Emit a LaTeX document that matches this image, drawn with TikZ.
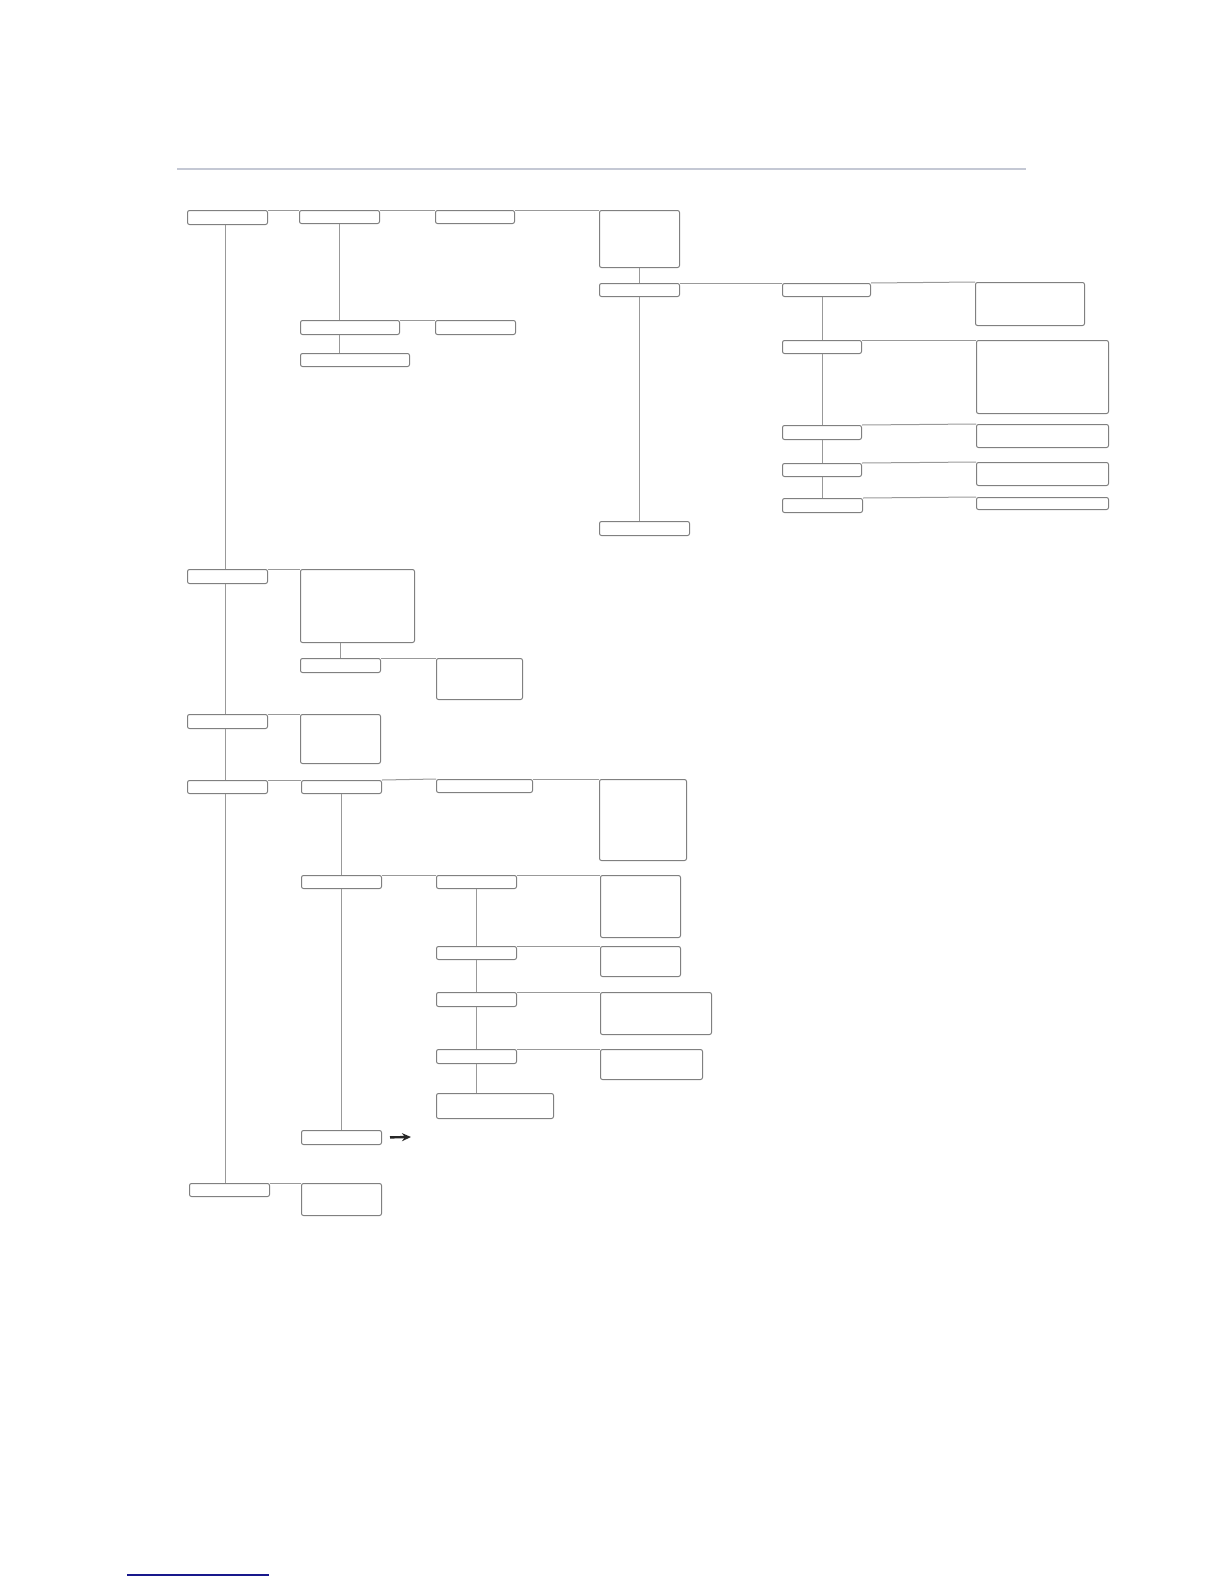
\documentclass[tikz,border=0pt]{standalone}
\usetikzlibrary{arrows.meta}
\definecolor{rulegray}{RGB}{196,200,212}
\definecolor{linkblue}{RGB}{24,24,140}
\begin{document}
\begin{tikzpicture}[x=0.5pt, y=-0.5pt,
        box/.style={draw=black!50, rounded corners=1pt, line width=0.5pt, inner sep=0pt, anchor=north west},
        link/.style={draw=black!40, line width=0.5pt}]
    \useasboundingbox (0,0) rectangle (1224,1584);
    % page rules
    \draw[rulegray, line width=0.6pt] (177,169) -- (1026,169);
    \draw[linkblue, line width=0.6pt] (127,1575) -- (269,1575);

    % first branch
    \node[box, minimum width=40pt, minimum height=7pt] (A) at (187,210) {};
    \node[box, minimum width=40pt, minimum height=6.5pt] (B) at (299,210) {};
    \node[box, minimum width=39.5pt, minimum height=6.5pt] (C) at (435,210) {};
    \node[box, minimum width=40pt, minimum height=28.5pt] (D) at (599,210) {};
    \node[box, minimum width=49.5pt, minimum height=7pt] (B2) at (300,320) {};
    \node[box, minimum width=40pt, minimum height=7pt] (C2) at (435,320) {};
    \node[box, minimum width=54.5pt, minimum height=6.5pt] (B3) at (300,353) {};
    \node[box, minimum width=40pt, minimum height=6.5pt] (D2) at (599,283) {};
    \node[box, minimum width=45pt, minimum height=7pt] (D3) at (599,521) {};
    \node[box, minimum width=44pt, minimum height=6.5pt] (E1) at (782,283) {};
    \node[box, minimum width=54.5pt, minimum height=21.5pt] (F1) at (975,282) {};
    \node[box, minimum width=39.5pt, minimum height=6.5pt] (E2) at (782,340) {};
    \node[box, minimum width=66pt, minimum height=36.5pt] (F2) at (976,340) {};
    \node[box, minimum width=39.5pt, minimum height=7pt] (E3) at (782,425) {};
    \node[box, minimum width=66pt, minimum height=11.5pt] (F3) at (976,424) {};
    \node[box, minimum width=39.5pt, minimum height=6.5pt] (E4) at (782,463) {};
    \node[box, minimum width=66pt, minimum height=11.5pt] (F4) at (976,462) {};
    \node[box, minimum width=40pt, minimum height=7pt] (E5) at (782,498) {};
    \node[box, minimum width=66pt, minimum height=6pt] (F5) at (976,497) {};

    % second and third branch
    \node[box, minimum width=40pt, minimum height=7pt] (G) at (187,569) {};
    \node[box, minimum width=57pt, minimum height=36.5pt] (H) at (300,569) {};
    \node[box, minimum width=40pt, minimum height=7pt] (H2) at (300,658) {};
    \node[box, minimum width=43pt, minimum height=20.5pt] (H3) at (436,658) {};
    \node[box, minimum width=40pt, minimum height=7pt] (I) at (187,714) {};
    \node[box, minimum width=40pt, minimum height=24.5pt] (J) at (300,714) {};

    % fourth branch
    \node[box, minimum width=40pt, minimum height=6.5pt] (K) at (187,780) {};
    \node[box, minimum width=40pt, minimum height=6.5pt] (L) at (301,780) {};
    \node[box, minimum width=48pt, minimum height=6.5pt] (M) at (436,779) {};
    \node[box, minimum width=43.5pt, minimum height=40.5pt] (P) at (599,779) {};
    \node[box, minimum width=40pt, minimum height=6.5pt] (L2) at (301,875) {};
    \node[box, minimum width=40pt, minimum height=6.5pt] (Q1) at (436,875) {};
    \node[box, minimum width=40pt, minimum height=31pt] (R1) at (600,875) {};
    \node[box, minimum width=40pt, minimum height=6.5pt] (Q2) at (436,946) {};
    \node[box, minimum width=40pt, minimum height=15pt] (R2) at (600,946) {};
    \node[box, minimum width=40pt, minimum height=7pt] (Q3) at (436,992) {};
    \node[box, minimum width=55.5pt, minimum height=21pt] (R3) at (600,992) {};
    \node[box, minimum width=40pt, minimum height=7pt] (Q4) at (436,1049) {};
    \node[box, minimum width=51pt, minimum height=15pt] (R4) at (600,1049) {};
    \node[box, minimum width=58.5pt, minimum height=12.5pt] (Q5) at (436,1093) {};
    \node[box, minimum width=40pt, minimum height=7pt] (L3) at (301,1130) {};
    \coordinate (L3out) at (411,1137);

    % last branch
    \node[box, minimum width=40pt, minimum height=6.5pt] (N) at (189,1183) {};
    \node[box, minimum width=40pt, minimum height=16pt] (O) at (301,1183) {};

    % main column
    \draw[link] ([xshift=-1pt]A.south) -- ([xshift=-1pt]G.north);
    \draw[link] ([xshift=-1pt]G.south) -- ([xshift=-1pt]I.north);
    \draw[link] ([xshift=-1pt]I.south) -- ([xshift=-1pt]K.north);
    \draw[link] ([xshift=-1pt]K.south) -- ([xshift=-1pt]K.south |- N.north);

    % rows
    \draw[link] (A.north east) -- (B.north west);
    \draw[link] (B.north east) -- (C.north west);
    \draw[link] (C.north east) -- (D.north west);
    \draw[link] (B.south) -- (B.south |- B2.north);
    \draw[link] (B2.north east) -- (C2.north west);
    \draw[link] (B.south |- B2.south) -- (B.south |- B3.north);
    \draw[link] (D.south) -- (D2.north);
    \draw[link] (D2.south) -- (D2.south |- D3.north);
    \draw[link] (D2.north east) -- (E1.north west);
    \draw[link] (E1.north east) -- (F1.north west);
    \draw[link] (E2.north |- E1.south) -- (E2.north);
    \draw[link] (E2.south) -- (E3.north);
    \draw[link] (E3.south) -- (E4.north);
    \draw[link] (E4.south) -- (E4.south |- E5.north);
    \draw[link] (E2.north east) -- (F2.north west);
    \draw[link] (E3.north east) -- (F3.north west);
    \draw[link] (E4.north east) -- (F4.north west);
    \draw[link] (E5.north east) -- (F5.north west);

    \draw[link] (G.north east) -- (H.north west);
    \draw[link] (H2.north |- H.south) -- (H2.north);
    \draw[link] (H2.north east) -- (H3.north west);
    \draw[link] (I.north east) -- (J.north west);

    \draw[link] (K.north east) -- (L.north west);
    \draw[link] (L.north east) -- (M.north west);
    \draw[link] (M.north east) -- (P.north west);
    \draw[link] (L.south) -- (L2.north);
    \draw[link] (L2.south) -- (L3.north);
    \draw[link] (L2.north east) -- (Q1.north west);
    \draw[link] (Q1.north east) -- (R1.north west);
    \draw[link] (Q1.south) -- (Q2.north);
    \draw[link] (Q2.south) -- (Q3.north);
    \draw[link] (Q3.south) -- (Q4.north);
    \draw[link] (Q4.south) -- (Q4.south |- Q5.north);
    \draw[link] (Q2.north east) -- (R2.north west);
    \draw[link] (Q3.north east) -- (R3.north west);
    \draw[link] (Q4.north east) -- (R4.north west);
    \draw[-{Stealth[length=4.5pt, width=4pt]}, line width=1.2pt, black!85, shorten <=4pt] (L3.east) -- (L3out);

    \draw[link] (N.north east) -- (O.north west);
\end{tikzpicture}
\end{document}
